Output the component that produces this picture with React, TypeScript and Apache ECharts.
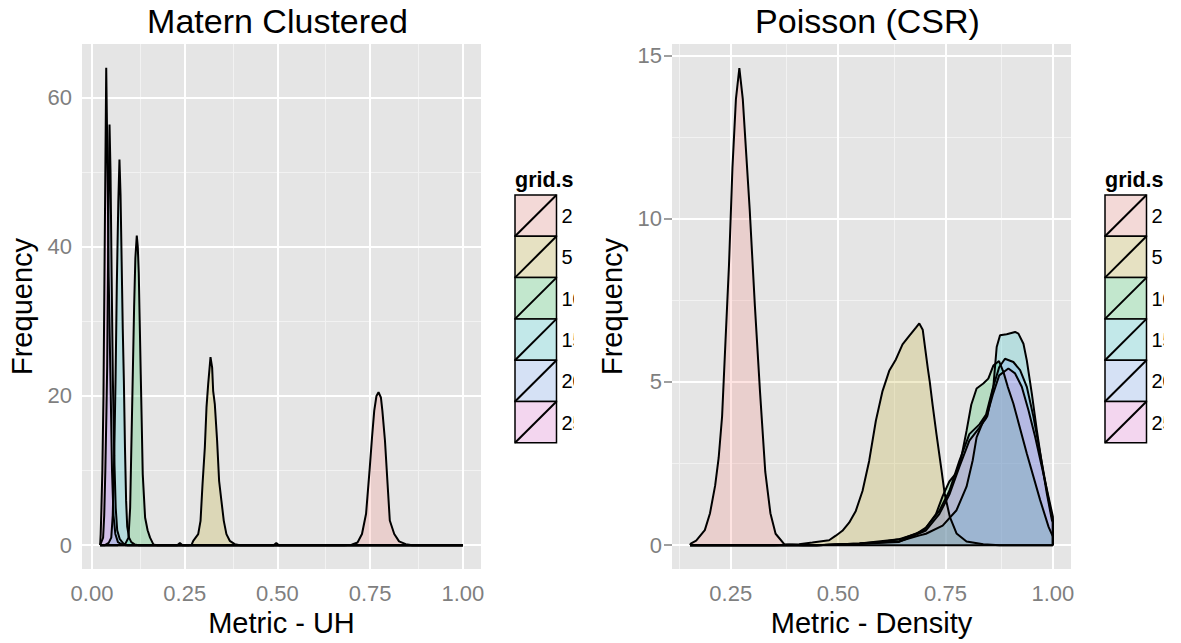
import React, { useEffect, useRef } from "react";
import * as echarts from "echarts";

// ---------- data ----------
const gridSizes = ["2", "5", "10", "15", "20", "25"];
const palette = ["#F8766D", "#B79F00", "#00BA38", "#00BFC4", "#619CFF", "#F564E3"];

// Matern Clustered, Metric - UH (x, density)
const uh2 = [[0.022,0],[0.23,0],[0.237,0.3],[0.244,0],[0.49,0],[0.497,0.3],[0.504,0],[0.68,0],[0.70,0.05],[0.716,0.35],[0.728,1.5],[0.739,4.2],[0.749,10.4],[0.755,14.4],[0.761,18.0],[0.767,20.0],[0.7726,20.5],[0.779,19.8],[0.783,18.0],[0.79,14.0],[0.797,8.2],[0.803,3.3],[0.815,1.5],[0.828,0.5],[0.846,0.13],[0.864,0],[1.0,0]];
const uh5 = [[0.022,0],[0.26,0],[0.2685,0.04],[0.273,0.58],[0.2864,1.47],[0.2927,3.26],[0.2981,8.2],[0.3043,13.1],[0.3088,18.5],[0.3133,21.6],[0.3196,25.2],[0.324,23.8],[0.3267,20.7],[0.3312,18.9],[0.3374,14.0],[0.3428,8.6],[0.3491,5.9],[0.3554,3.26],[0.3625,1.47],[0.3715,0.58],[0.385,0.13],[0.399,0],[1.0,0]];
const uh10 = [[0.022,0],[0.07,0],[0.09,0.2],[0.0984,1.0],[0.1029,5.0],[0.1083,18.5],[0.1136,31.9],[0.117,38.5],[0.1208,41.5],[0.1235,40],[0.1262,36.4],[0.1315,22.9],[0.1369,9.5],[0.1432,3.7],[0.15,2.0],[0.1566,1.0],[0.1655,0.1],[0.175,0],[1.0,0]];
const uh15 = [[0.022,0],[0.035,0],[0.045,0.3],[0.052,1.0],[0.056,4],[0.06,12],[0.0635,22],[0.067,35],[0.071,46],[0.0741,51.7],[0.077,47],[0.08,38],[0.083,29],[0.086,22],[0.089,13],[0.092,6],[0.095,2.5],[0.1,1],[0.106,0.4],[0.115,0.1],[0.125,0],[1.0,0]];
const uh20 = [[0.022,0],[0.03,1],[0.033,4],[0.036,10],[0.039,18],[0.041,24],[0.043,36],[0.045,47],[0.0473,56.4],[0.050,50],[0.053,36],[0.0564,22],[0.06,12],[0.064,5],[0.068,2],[0.075,0.8],[0.085,0.2],[0.095,0],[1.0,0]];
const uh25 = [[0.022,0],[0.0235,1.5],[0.0255,5],[0.028,10],[0.031,20],[0.0335,35],[0.036,50],[0.0384,64.0],[0.040,58],[0.042,50],[0.045,36],[0.050,22],[0.054,10],[0.058,4],[0.063,1.5],[0.07,0.4],[0.08,0.1],[0.09,0],[1.0,0]];

// Poisson (CSR), Metric - Density (x, density)
const dens2 = [[0.1555,0],[0.157,0.05],[0.1696,0.14],[0.1897,0.46],[0.2018,0.98],[0.2138,1.83],[0.2219,2.67],[0.2299,3.94],[0.2379,6.27],[0.246,8.59],[0.254,11.55],[0.2621,13.66],[0.2701,14.61],[0.2781,13.66],[0.2942,10.28],[0.3063,7.32],[0.3183,4.68],[0.3304,2.25],[0.3424,0.98],[0.3545,0.35],[0.3746,0.03],[0.4188,0],[1.0,0]];
const dens5 = [[0.1555,0],[0.35,0],[0.409,0.03],[0.44,0.08],[0.479,0.15],[0.4946,0.29],[0.51,0.44],[0.5257,0.69],[0.5412,1.05],[0.5568,1.66],[0.5723,2.58],[0.5879,3.81],[0.6034,4.72],[0.619,5.34],[0.6345,5.69],[0.65,6.15],[0.6656,6.41],[0.6812,6.66],[0.689,6.79],[0.697,6.6],[0.703,6.0],[0.709,5.4],[0.7134,5.0],[0.72,4.3],[0.729,3.4],[0.7407,2.3],[0.7484,1.55],[0.7601,0.87],[0.7757,0.36],[0.799,0.11],[0.838,0.03],[0.876,0],[1.0,0]];
const dens10 = [[0.1555,0],[0.45,0],[0.55,0.05],[0.6,0.1],[0.65,0.2],[0.70,0.45],[0.7278,0.95],[0.7434,1.5],[0.759,1.95],[0.7745,2.2],[0.787,2.7],[0.799,3.5],[0.81,4.3],[0.8224,4.8],[0.838,4.95],[0.8497,5.1],[0.8614,5.5],[0.8746,5.64],[0.885,5.3],[0.895,4.85],[0.908,4.34],[0.9393,2.81],[0.9704,1.38],[0.99,0.56],[1.0,0.26],[1.0,0]];
const dens15 = [[0.1555,0],[0.45,0],[0.55,0.04],[0.6423,0.12],[0.69,0.3],[0.7045,0.35],[0.7434,0.6],[0.7757,1.07],[0.799,1.79],[0.8134,2.6],[0.8224,3.3],[0.838,3.8],[0.8473,3.95],[0.8614,4.85],[0.8692,6.07],[0.877,6.43],[0.8925,6.46],[0.912,6.53],[0.9198,6.48],[0.9315,6.17],[0.9393,5.66],[0.951,4.64],[0.9626,3.52],[0.9743,2.5],[0.986,1.58],[0.9977,0.77],[1.0,0.7],[1.0,0]];
const dens20 = [[0.1555,0],[0.45,0],[0.55,0.05],[0.6423,0.18],[0.6812,0.34],[0.7045,0.54],[0.7356,1.05],[0.759,1.66],[0.7823,2.58],[0.8056,3.4],[0.829,3.7],[0.8445,4.0],[0.86,4.8],[0.875,5.45],[0.8885,5.71],[0.908,5.61],[0.9237,5.36],[0.9393,4.85],[0.9548,3.93],[0.9704,2.81],[0.986,1.68],[0.9977,0.87],[1.0,0.77],[1.0,0]];
const dens25 = [[0.1555,0],[0.45,0],[0.55,0.04],[0.6423,0.1],[0.7045,0.45],[0.7356,0.95],[0.759,1.55],[0.7823,2.4],[0.8056,3.2],[0.829,3.6],[0.845,3.9],[0.86,4.6],[0.875,5.2],[0.8964,5.41],[0.912,5.26],[0.9276,4.85],[0.9432,4.13],[0.9587,3.32],[0.9743,2.4],[0.9899,1.48],[1.0,0.87],[1.0,0]];

// ticks / grid lines
const uhTicksX = [0, 0.25, 0.5, 0.75, 1];
const uhMinorX = [0.125, 0.375, 0.625, 0.875];
const uhTicksY = [0, 20, 40, 60];
const uhMinorY = [10, 30, 50];
const densTicksX = [0.25, 0.5, 0.75, 1];
const densMinorX = [0.125, 0.375, 0.625, 0.875];
const densTicksY = [0, 5, 10, 15];
const densMinorY = [2.5, 7.5, 12.5];

const titles = ["Matern Clustered", "Poisson (CSR)"];
const xNames = ["Metric - UH", "Metric - Density"];
const yName = "Frequency";
const legendTitle = "grid.size";

// ---------- layout ----------
const FONT = "'Liberation Sans', Arial, Helvetica, sans-serif";
const panels = [
  { left: 82, xMin: -0.0269, xMax: 1.0489, yMin: -3.2, yMax: 67.2,
    series: [uh2, uh5, uh10, uh15, uh20, uh25],
    tx: uhTicksX, mx: uhMinorX, ty: uhTicksY, my: uhMinorY },
  { left: 672, xMin: 0.1133, xMax: 1.0422, yMin: -0.73, yMax: 15.35,
    series: [dens2, dens5, dens10, dens15, dens20, dens25],
    tx: densTicksX, mx: densMinorX, ty: densTicksY, my: densMinorY },
];
const GRID_TOP = 44;
const GRID_W = 399;
const GRID_H = 525;

function hexToRgb(h: string) {
  const n = parseInt(h.slice(1), 16);
  return [(n >> 16) & 255, (n >> 8) & 255, n & 255];
}
function rgba(h: string, a: number) {
  const [r, g, b] = hexToRgb(h);
  return `rgba(${r},${g},${b},${a})`;
}
function mixOn(h: string, a: number, bg: number) {
  const [r, g, b] = hexToRgb(h);
  const m = (c: number) => Math.round(c * a + bg * (1 - a));
  return `rgb(${m(r)},${m(g)},${m(b)})`;
}

function buildOption() {
  const grid = panels.map((p) => ({
    left: p.left, top: GRID_TOP, width: GRID_W, height: GRID_H,
    show: true, backgroundColor: "#E5E5E5", borderWidth: 0,
    containLabel: false, outerBoundsMode: "none",
  }));
  const xAxis = panels.map((p, i) => ({
    type: "value", gridIndex: i, min: p.xMin, max: p.xMax,
    name: xNames[i], nameLocation: "middle", nameGap: 37,
    nameTextStyle: { color: "#000", fontSize: 29, fontFamily: FONT },
    axisLine: { show: false },
    axisTick: { show: true, length: 8, lineStyle: { color: "#7F7F7F", width: 1.5 }, customValues: p.tx },
    axisLabel: { customValues: p.tx, formatter: (v: number) => v.toFixed(2), color: "#7F7F7F", fontSize: 22, margin: 13, fontFamily: FONT },
    splitLine: { show: false },
  }));
  const yAxis = panels.map((p, i) => ({
    type: "value", gridIndex: i, min: p.yMin, max: p.yMax,
    name: yName, nameLocation: "middle", nameGap: 46,
    nameTextStyle: { color: "#000", fontSize: 29, fontFamily: FONT },
    axisLine: { show: false },
    axisTick: { show: true, length: 8, lineStyle: { color: "#7F7F7F", width: 1.5 }, customValues: p.ty },
    axisLabel: { customValues: p.ty, formatter: (v: number) => String(v), color: "#7F7F7F", fontSize: 22, margin: 10, fontFamily: FONT },
    splitLine: { show: false },
  }));

  const series: any[] = [];
  panels.forEach((p, i) => {
    const lines: any[] = [];
    p.mx.forEach((v) => lines.push({ xAxis: v, lineStyle: { color: "#F2F2F2", width: 1, type: "solid" } }));
    p.my.forEach((v) => lines.push({ yAxis: v, lineStyle: { color: "#F2F2F2", width: 1, type: "solid" } }));
    p.tx.forEach((v) => lines.push({ xAxis: v, lineStyle: { color: "#FFFFFF", width: 2, type: "solid" } }));
    p.ty.forEach((v) => lines.push({ yAxis: v, lineStyle: { color: "#FFFFFF", width: 2, type: "solid" } }));
    series.push({
      type: "line", name: "grid" + i, xAxisIndex: i, yAxisIndex: i, data: [],
      silent: true, z: 1,
      markLine: { silent: true, symbol: ["none", "none"], z: 1, animation: false, label: { show: false }, emphasis: { disabled: true }, data: lines },
    });
    p.series.forEach((d, k) => {
      series.push({
        type: "line", name: gridSizes[k], xAxisIndex: i, yAxisIndex: i,
        data: d, symbol: "none", showSymbol: false, smooth: false, silent: true, z: 2,
        lineStyle: { color: "#000", width: 2 },
        itemStyle: { color: palette[k] },
        areaStyle: { color: rgba(palette[k], 0.2), opacity: 1 },
      });
    });
  });

  const graphic: any[] = [];
  panels.forEach((p, i) => {
    graphic.push({
      type: "text", x: p.left + GRID_W / 2 - 4, y: 4, z: 50,
      style: { text: titles[i], font: `34px ${FONT}`, fill: "#000", align: "center", verticalAlign: "top" },
    });
    const lx = p.left + GRID_W + 34;
    const ky = 195;
    const kh = 41.3;
    const kw = 41.5;
    graphic.push({
      type: "text", x: lx, y: 179.5, z: 50,
      style: { text: legendTitle, font: `bold 21.5px ${FONT}`, fill: "#000", align: "left", verticalAlign: "middle" },
    });
    gridSizes.forEach((g, k) => {
      const y = ky + k * kh;
      graphic.push({ type: "rect", z: 50, shape: { x: lx, y, width: kw, height: kh }, style: { fill: mixOn(palette[k], 0.2, 242), stroke: "#000", lineWidth: 1.5 } });
      graphic.push({ type: "line", z: 51, shape: { x1: lx, y1: y + kh, x2: lx + kw, y2: y }, style: { stroke: "#000", lineWidth: 2 } });
      graphic.push({
        type: "text", x: lx + 46.5, y: y + kh / 2 + 0.5, z: 50,
        style: { text: g, font: `20px ${FONT}`, fill: "#000", align: "left", verticalAlign: "middle" },
      });
    });
    // clipping masks (the legend is cut off in the reference)
    graphic.push({ type: "rect", z: 100, shape: { x: lx + 59, y: 150, width: 45, height: 45 }, style: { fill: "#FFFFFF" } });
    graphic.push({ type: "rect", z: 100, shape: { x: lx + 59, y: 195, width: 24, height: 260 }, style: { fill: "#FFFFFF" } });
  });

  return {
    animation: false,
    backgroundColor: "#FFFFFF",
    textStyle: { fontFamily: FONT },
    grid, xAxis, yAxis, series, graphic,
  };
}

export default function App() {
  const ref = useRef<HTMLDivElement>(null);
  useEffect(() => {
    if (!ref.current) return;
    const chart = echarts.init(ref.current, undefined, { renderer: "svg" });
    chart.setOption(buildOption() as any);
    return () => chart.dispose();
  }, []);
  return (
    <div
      ref={ref}
      style={{ position: "fixed", left: 0, top: 0, width: 1181, height: 643, background: "#fff" }}
    />
  );
}
